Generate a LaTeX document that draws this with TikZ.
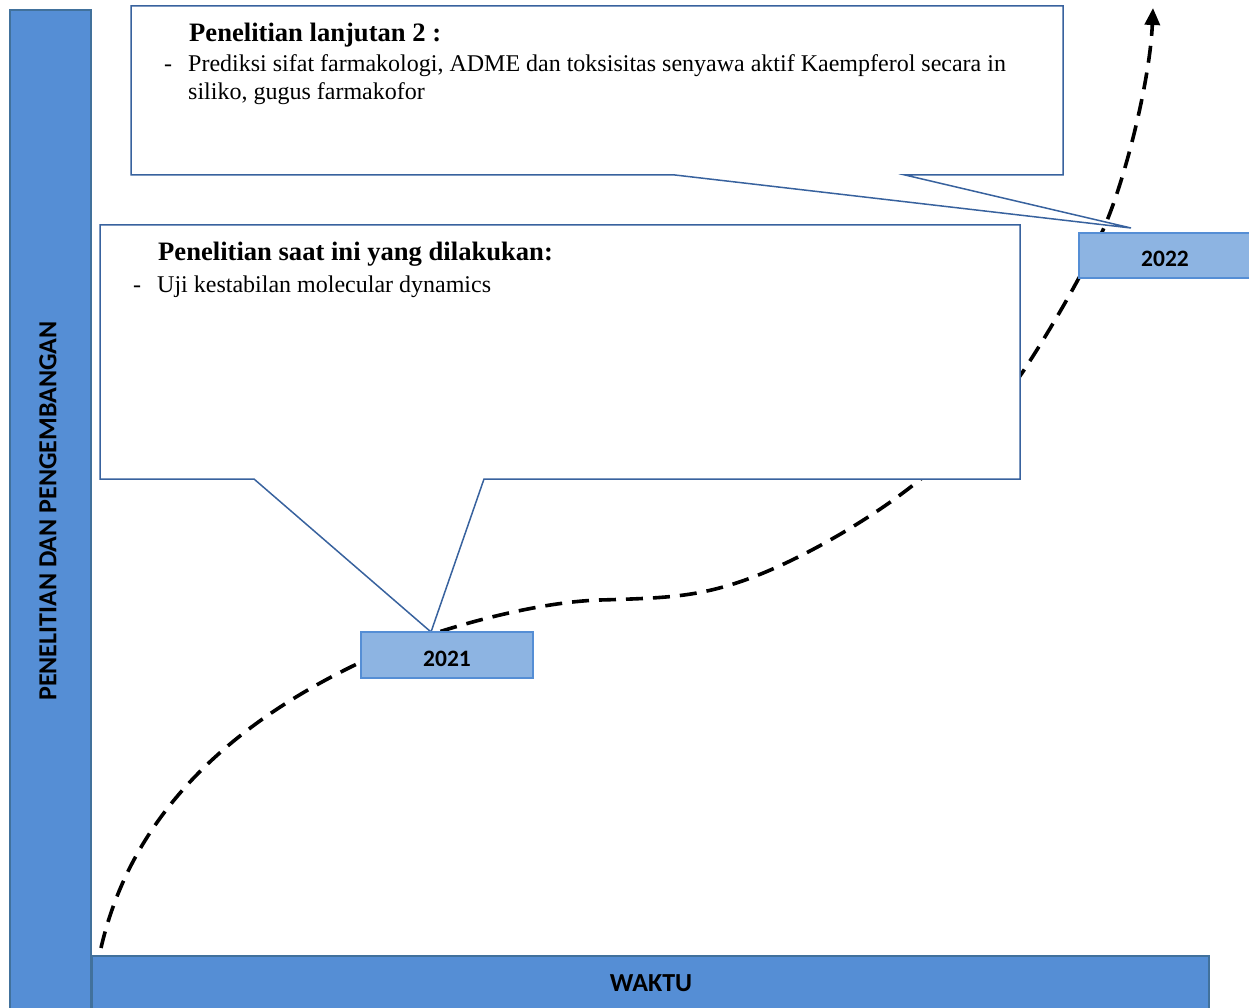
\documentclass[tikz,border=0pt]{standalone}
\usepackage{fontspec}
\setmainfont{Liberation Serif}
\newfontfamily\lblfont{Carlito}
\usetikzlibrary{arrows.meta}
\definecolor{barfill}{RGB}{85,142,213}
\definecolor{barline}{RGB}{65,113,156}
\definecolor{yearfill}{RGB}{141,180,226}
\definecolor{yearline}{RGB}{85,142,213}
\definecolor{callline}{RGB}{56,98,158}
\tikzset{
  bar/.style={fill=barfill,draw=barline,line width=2pt},
  yearbox/.style={fill=yearfill,draw=yearline,line width=1.5pt},
  callout/.style={fill=white,draw=callline,line width=1.5pt,line join=miter},
  lbl/.style={font=\lblfont\bfseries\fontsize{26}{30}\selectfont,text=black},
  yearlbl/.style={font=\lblfont\bfseries\fontsize{23.5}{28}\selectfont,text=black},
  ttl/.style={font=\bfseries\fontsize{26.6}{30}\selectfont,anchor=base west,inner sep=0pt},
  body/.style={font=\fontsize{24}{28}\selectfont,anchor=base west,inner sep=0pt},
  trend/.style={line width=3.6pt,dash pattern=on 17pt off 10pt,-{Triangle[length=17pt,width=15pt]}}
}
\begin{document}
\begin{tikzpicture}[x=1pt,y=-1pt]
\useasboundingbox (0,0) rectangle (1249,1008);
% trend curve
\coordinate (start) at (101,948);
\coordinate (tip) at (1153,8);
\draw[trend] (start)
  .. controls (135,800) and (250,715) .. (361,662)
  .. controls (421,633) and (530,602) .. (600,600)
  .. controls (660,598.3) and (690,597) .. (730,585)
  .. controls (790,567) and (870,520) .. (917,482)
  .. controls (964,444) and (1002,403) .. (1022,373)
  .. controls (1050,331) and (1085,270) .. (1103,230)
  .. controls (1125,181) and (1150,80) .. (tip);
% axes bars
\draw[bar] (10,10) rectangle (91,1012);
\draw[bar] (92,956) rectangle (1209,1012);
\node[lbl,rotate=90] (ylabel) at (48,511) {PENELITIAN DAN PENGEMBANGAN};
\node[lbl] (xlabel) at (651,983) {WAKTU};
% top callout
\draw[callout] (131,6) -- (1063,6) -- (1063,175) -- (905,175) -- (1131,228) -- (675,175) -- (131,175) -- cycle;
\node[ttl] (t1) at (189,42) {Penelitian lanjutan 2 :};
\node[body] (d1) at (164,72) {-};
\node[body] (b1) at (188,72) {Prediksi sifat farmakologi, ADME dan toksisitas senyawa aktif Kaempferol secara in};
\node[body] (b2) at (188,100) {siliko, gugus farmakofor};
% second callout
\draw[callout] (100,225) -- (1020,225) -- (1020,479) -- (484,479) -- (431,632) -- (254,479) -- (100,479) -- cycle;
\node[ttl] (t2) at (158,260) {Penelitian saat ini yang dilakukan:};
\node[body] (d2) at (133,292) {-};
\node[body] (b3) at (157,292) {Uji kestabilan molecular dynamics};
% year boxes
\draw[yearbox] (361,632) rectangle (533,678);
\node[yearlbl] (y2021) at (447,659) {2021};
\draw[yearbox] (1079,233) rectangle (1255,278);
\node[yearlbl] (y2022) at (1165,259) {2022};
\end{tikzpicture}
\end{document}
